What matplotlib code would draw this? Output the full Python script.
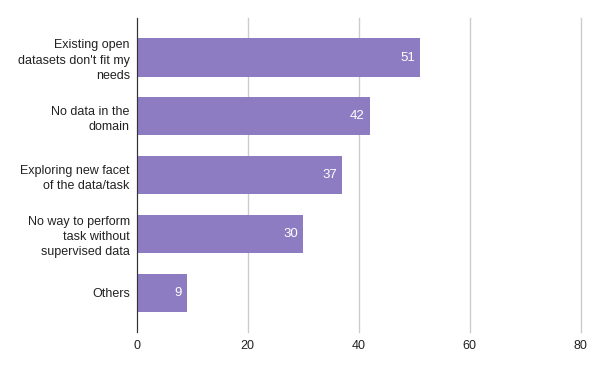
import numpy as np
from matplotlib import pyplot as plt

plt.rcParams['font.family'] = ['Liberation Sans', 'DejaVu Sans']

categories = [
    "Existing open\ndatasets don't fit my\nneeds",
    "No data in the\ndomain",
    "Exploring new facet\nof the data/task",
    "No way to perform\ntask without\nsupervised data",
    "Others",
]
values = [51, 42, 37, 30, 9]
xticks = [0, 20, 40, 60, 80]

BAR_COLOR = '#8e7cc3'

fig = plt.figure(figsize=(6, 3.71), dpi=100)
ax = fig.add_axes([0.228, 0.105, 0.74, 0.846])

pos = np.arange(len(categories))
ax.barh(pos, values, height=0.65, color=BAR_COLOR, zorder=3)

for p, v in zip(pos, values):
    ax.text(v - 0.9, p, str(v), color='white', fontsize=9.5,
            ha='right', va='center', zorder=4)

ax.set_ylim(len(categories) - 0.33, -0.67)
ax.set_xlim(0, 80)
ax.set_xticks(xticks)
ax.set_xticklabels([str(t) for t in xticks])
ax.set_yticks(pos)
ax.set_yticklabels(categories, fontsize=9, color='#222222', linespacing=1.35)

ax.tick_params(axis='both', length=0, colors='#222222', labelsize=9)
ax.tick_params(axis='x', pad=6)
ax.tick_params(axis='y', pad=5)

ax.grid(axis='x', color='#cccccc', linewidth=1, zorder=0)
for gl in ax.get_xgridlines():
    gl.set_clip_on(False)
for s in ['top', 'right', 'bottom']:
    ax.spines[s].set_visible(False)
ax.spines['left'].set_color('#333333')
ax.spines['left'].set_zorder(5)

plt.savefig('out.png', dpi=100)
plt.close()
